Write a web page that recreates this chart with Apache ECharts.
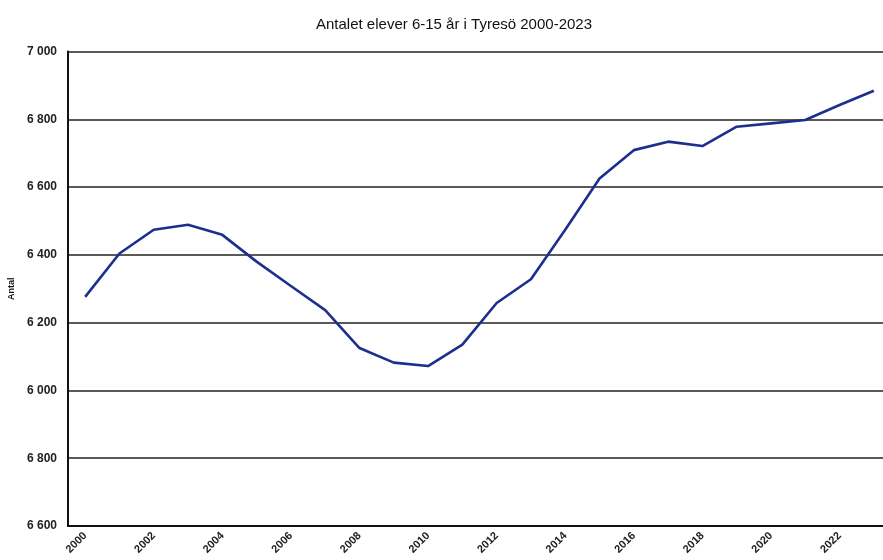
<!DOCTYPE html>
<html>
<head>
<meta charset="utf-8">
<script src="https://cdn.jsdelivr.net/npm/echarts@6/dist/echarts.min.js"></script>
<style>
html,body{margin:0;padding:0;background:#fff;}
#c{width:883px;height:560px;}
</style>
</head>
<body>
<div id="c"></div>
<script>
var years = ['2000','2001','2002','2003','2004','2005','2006','2007','2008','2009','2010','2011','2012','2013','2014','2015','2016','2017','2018','2019','2020','2021','2022','2023'];
var pupils = [6276,6404,6474,6489,6459,6380,6308,6237,6125,6082,6072,6135,6258,6328,6474,6625,6709,6734,6721,6778,6788,6798,6842,6884];
var yTickValues = [5600,5800,6000,6200,6400,6600,6800,7000];
var yTickLabels = ['6 600','6 800','6 000','6 200','6 400','6 600','6 800','7 000'];
var titleText = 'Antalet elever 6-15 år i Tyresö 2000-2023';
var yName = 'Antal';

var chart = echarts.init(document.getElementById('c'));
chart.setOption({
  backgroundColor: '#ffffff',
  animation: false,
  title: {
    text: titleText,
    left: 449, top: 12, textAlign: 'center',
    textStyle: {fontFamily: 'Liberation Sans', fontSize: 15, fontWeight: 'normal', color: '#111'}
  },
  grid: {left: 68, width: 823, top: 51.5, bottom: 34, outerBoundsMode: 'none', containLabel: false},
  xAxis: {
    type: 'category',
    data: years,
    boundaryGap: true,
    axisLine: {lineStyle: {color: '#111', width: 2}},
    axisTick: {show: false},
    axisLabel: {
      interval: 1, rotate: 45, margin: 8,
      fontFamily: 'Liberation Sans', fontSize: 11, fontWeight: 'bold', color: '#222'
    }
  },
  yAxis: {
    type: 'value',
    min: 5600, max: 7000, interval: 200,
    name: yName, nameLocation: 'middle', nameGap: 52, nameRotate: 90,
    nameTextStyle: {fontFamily: 'Liberation Sans', fontSize: 9, fontWeight: 'bold', color: '#111'},
    axisLine: {show: true, lineStyle: {color: '#111', width: 2}},
    axisTick: {show: false},
    splitLine: {lineStyle: {color: '#222', width: 1.6}},
    axisLabel: {
      margin: 11,
      fontFamily: 'Liberation Sans', fontSize: 12, fontWeight: 'bold', color: '#222',
      formatter: function (v) {
        var i = yTickValues.indexOf(v);
        return i >= 0 ? yTickLabels[i] : '';
      }
    }
  },
  series: [{
    type: 'line',
    data: pupils,
    symbol: 'none',
    lineStyle: {color: '#1b2f8f', width: 2.6}
  }]
});
</script>
</body>
</html>
